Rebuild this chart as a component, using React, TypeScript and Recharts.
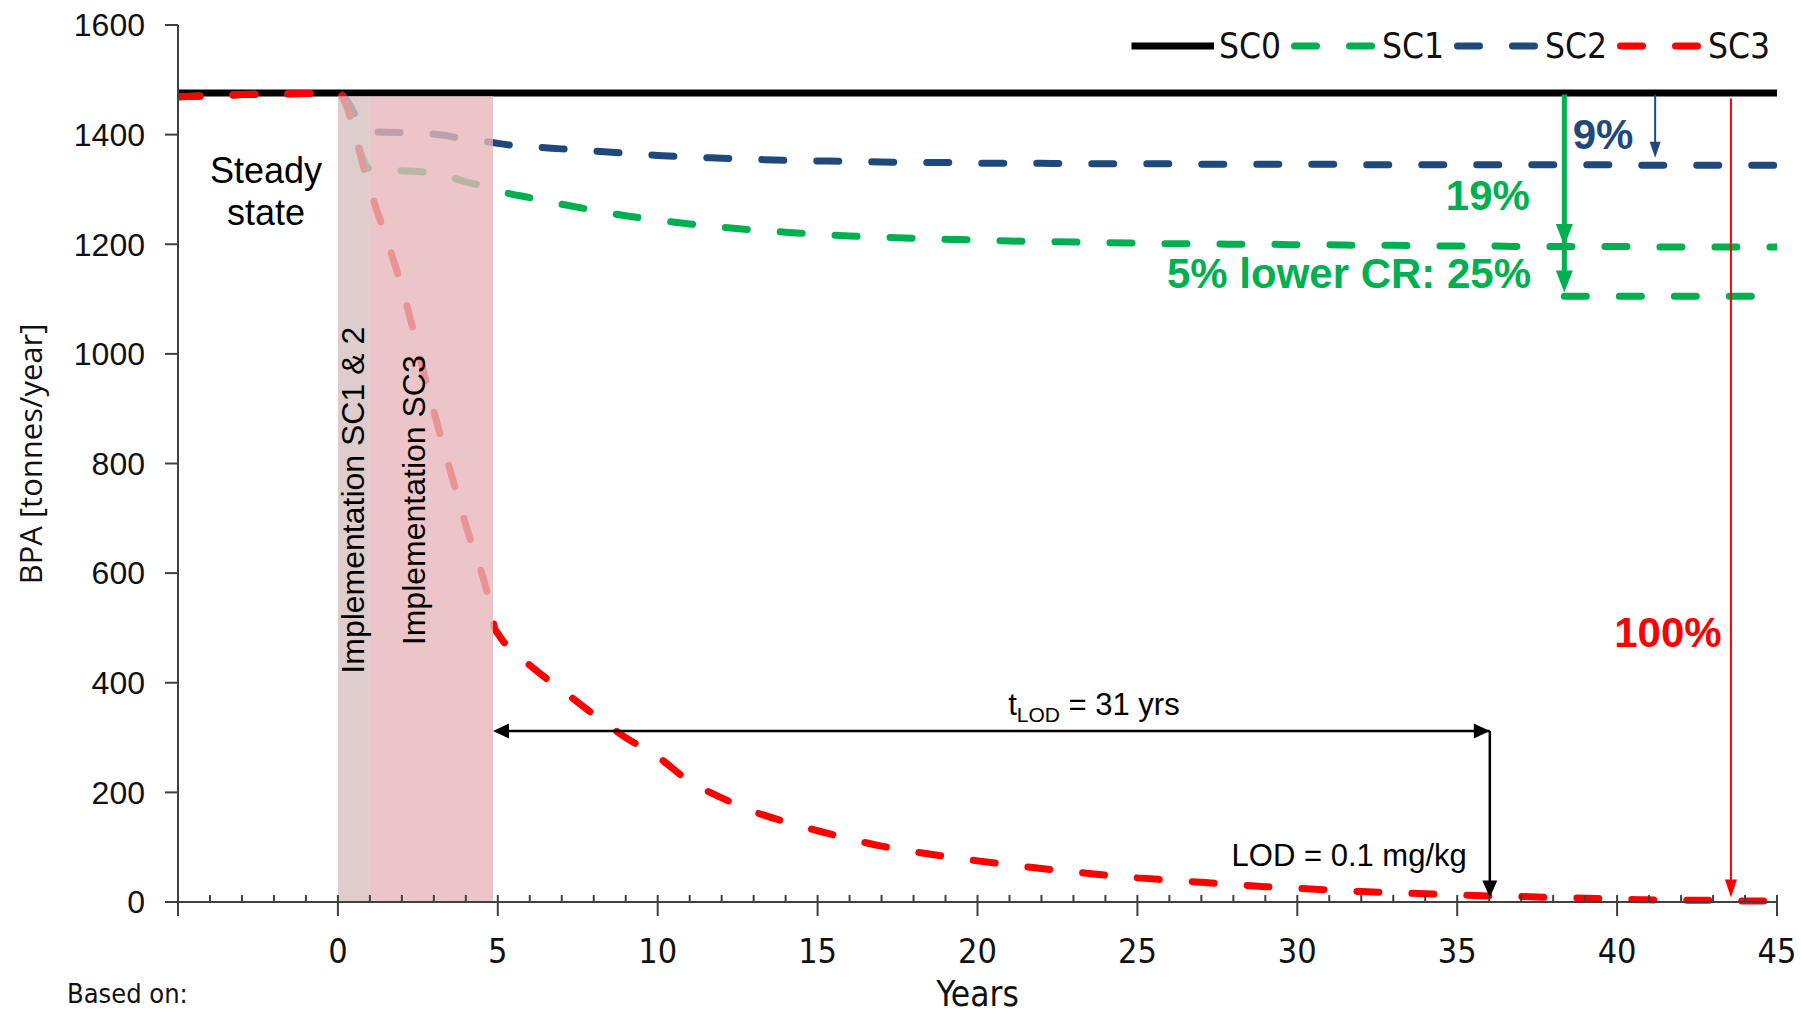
import React from 'react';
import { LineChart, Line, XAxis, YAxis, ReferenceArea, ReferenceLine, ReferenceDot, Legend } from 'recharts';

// years on the x axis (steady state before 0, implementation 0..~5)
const years = [
  -5, -4, -3, -2, -1, 0, 1, 2, 3, 4, 4.8, 4.9,
  5, 6, 7, 8, 9, 10, 11, 12, 13, 14, 15, 16, 17, 18, 19, 20,
  21, 22, 23, 24, 25, 26, 27, 28, 29, 30, 31, 32, 33, 34, 35,
  36, 37, 38, 39, 40, 41, 42, 43, 44, 45,
];

// BPA [tonnes/year] per scenario
const sc0 = [
  1476, 1476, 1476, 1476, 1476, 1476, 1476, 1476, 1476, 1476, 1476, 1476,
  1476, 1476, 1476, 1476, 1476, 1476, 1476, 1476, 1476, 1476, 1476, 1476, 1476, 1476, 1476, 1476,
  1476, 1476, 1476, 1476, 1476, 1476, 1476, 1476, 1476, 1476, 1476, 1476, 1476, 1476, 1476,
  1476, 1476, 1476, 1476, 1476, 1476, 1476, 1476, 1476, 1476,
];
const sc1 = [
  1469, 1471, 1473, 1474, 1475, 1476, 1338, 1334, 1330, 1314, 1302, 1300,
  1298, 1285, 1273, 1262, 1252, 1244, 1237, 1231, 1226, 1222, 1218, 1215, 1213, 1211, 1209, 1208,
  1206, 1205, 1204, 1203, 1202, 1201, 1201, 1200, 1200, 1199, 1199, 1198, 1198, 1197, 1197,
  1197, 1196, 1196, 1196, 1196, 1195, 1195, 1195, 1195, 1195,
];
const sc2 = [
  1469, 1471, 1473, 1474, 1475, 1476, 1405, 1404, 1401, 1392, 1386, 1385,
  1384, 1378, 1374, 1370, 1366, 1362, 1359, 1357, 1355, 1353, 1352, 1351, 1350, 1349, 1349, 1348,
  1348, 1348, 1347, 1347, 1347, 1347, 1346, 1346, 1346, 1346, 1346, 1345, 1345, 1345, 1345,
  1345, 1345, 1345, 1345, 1345, 1344, 1344, 1344, 1344, 1344,
];
const sc3 = [
  1469, 1471, 1473, 1474, 1475, 1476, 1300, 1121, 895, 688, 530, 500,
  490, 432, 387, 342, 300, 265, 220, 190, 165, 146, 130, 115, 102, 92, 83, 75,
  68, 61, 55, 49, 44, 40, 36, 32, 28, 25, 22, 19, 17, 15, 13,
  11, 10, 8, 7, 5, 4, 3, 3, 2, 2,
];

// SC1 with 5% lower collection rate (end level)
const lowerCrYears = [38.35, 45];
const lowerCr = [1105, 1105];

const xTicks = [
  -5, -4, -3, -2, -1, 0, 1, 2, 3, 4, 5, 6, 7, 8, 9, 10, 11, 12, 13, 14, 15, 16, 17, 18, 19, 20,
  21, 22, 23, 24, 25, 26, 27, 28, 29, 30, 31, 32, 33, 34, 35, 36, 37, 38, 39, 40, 41, 42, 43, 44, 45,
];
const yTicks = [0, 200, 400, 600, 800, 1000, 1200, 1400, 1600];

const series = [
  { key: 'sc0', name: 'SC0', color: '#000000', dash: undefined },
  { key: 'sc1', name: 'SC1', color: '#00B050', dash: '22 33' },
  { key: 'sc2', name: 'SC2', color: '#1F497D', dash: '22 33' },
  { key: 'sc3', name: 'SC3', color: '#FF0000', dash: '22 33' },
];

const data = years.map((year, i) => ({ year, sc0: sc0[i], sc1: sc1[i], sc2: sc2[i], sc3: sc3[i] }));
const lowerCrData = lowerCrYears.map((year, i) => ({ year, value: lowerCr[i] }));

const ARIAL = 'Liberation Sans, Arial, sans-serif';
const NARROW = "'Liberation Sans Narrow', 'Arial Narrow', 'DejaVu Sans Condensed', sans-serif";
const AXIS = '#404040';

function XTick(props: any) {
  const { x, y, payload } = props;
  const v = payload.value;
  const major = v % 5 === 0;
  return (
    <g>
      <line x1={x} x2={x} y1={y - 7} y2={major ? y + 14 : y} stroke={AXIS} strokeWidth={2} />
      {major && v >= 0 && (
        <text x={x} y={y + 61} textAnchor="middle" fontFamily={NARROW} fontSize={34} fill="#111">
          {v}
        </text>
      )}
    </g>
  );
}

function Arrowhead({ cx, cy, dir, len, wid, color }: any) {
  let pts = '';
  if (dir === 'down') pts = `${cx},${cy} ${cx - wid / 2},${cy - len} ${cx + wid / 2},${cy - len}`;
  if (dir === 'left') pts = `${cx},${cy} ${cx + len},${cy - wid / 2} ${cx + len},${cy + wid / 2}`;
  if (dir === 'right') pts = `${cx},${cy} ${cx - len},${cy - wid / 2} ${cx - len},${cy + wid / 2}`;
  return <polygon points={pts} fill={color} />;
}

const arrow = (dir: string, len: number, wid: number, color: string) => (p: any) =>
  <Arrowhead cx={p.cx} cy={p.cy} dir={dir} len={len} wid={wid} color={color} />;

const note = (text: React.ReactNode, style: any) => (p: any) =>
  <text x={p.cx} y={p.cy} {...style}>{text}</text>;

const vnote = (text: string) => (p: any) => (
  <text x={p.cx} y={p.cy} dy="0.36em" textAnchor="middle" fontFamily={ARIAL} fontSize={32} fill="#000"
    transform={`rotate(-90, ${p.cx}, ${p.cy})`}>{text}</text>
);

function LegendContent() {
  return (
    <svg width={650} height={40}>
      {series.map((s, i) => (
        <g key={s.key} transform={`translate(${i * 163}, 20)`}>
          <line x1={3.5} x2={86} y1={0} y2={0} stroke={s.color} strokeWidth={7}
            strokeDasharray={s.dash} strokeLinecap={s.dash ? 'round' : 'butt'} />
          <text x={91} y={0} dy="0.35em" fontFamily={NARROW} fontSize={35} fill="#111">{s.name}</text>
        </g>
      ))}
    </svg>
  );
}

export default function App() {
  return (
    <div style={{ position: 'absolute', left: 0, top: 0, width: 1801, height: 1013, background: '#fff' }}>
      <LineChart width={1801} height={1013} data={data} margin={{ top: 25, right: 24, left: 78, bottom: 51 }}>
        <XAxis
          dataKey="year"
          type="number"
          domain={[-5, 45]}
          ticks={xTicks}
          interval={0}
          allowDataOverflow
          height={60}
          tickLine={false}
          tickSize={0}
          tickMargin={0}
          tick={XTick}
          axisLine={{ stroke: AXIS, strokeWidth: 2 }}
          label={(p: any) => (
            <text x={p.viewBox.x + p.viewBox.width / 2} y={p.viewBox.y + 104} textAnchor="middle"
              fontFamily={NARROW} fontSize={35} fill="#111">Years</text>
          )}
        />
        <YAxis
          type="number"
          domain={[0, 1600]}
          ticks={yTicks}
          width={100}
          tickSize={13}
          tickMargin={20}
          tick={{ fontSize: 32, fontFamily: ARIAL, fill: '#111' }}
          tickLine={{ stroke: AXIS, strokeWidth: 2 }}
          axisLine={{ stroke: AXIS, strokeWidth: 2 }}
          label={(p: any) => (
            <text x={p.viewBox.x - 36} y={p.viewBox.y + 429} textAnchor="middle"
              fontFamily="'Open Sans', sans-serif" fontSize={31} fill="#111"
              transform={`rotate(-90, ${p.viewBox.x - 36}, ${p.viewBox.y + 429})`}>BPA [tonnes/year]</text>
          )}
        />
        <Legend verticalAlign="middle" align="center" layout="horizontal" content={LegendContent}
          wrapperStyle={{ position: 'absolute', left: 1128, top: 26, width: 660, height: 40 }} />

        {series.map((s) => (
          <Line key={s.key} dataKey={s.key} name={s.name} type="monotone" stroke={s.color} strokeWidth={7}
            strokeDasharray={s.dash} strokeLinecap={s.dash ? 'round' : 'butt'}
            dot={false} activeDot={false} isAnimationActive={false} />
        ))}
        <Line data={lowerCrData} dataKey="value" name="SC1 lower CR" type="linear" stroke="#00B050" strokeWidth={7}
          strokeDasharray="22 33" strokeLinecap="round" dot={false} activeDot={false} legendType="none"
          isAnimationActive={false} />

        {/* implementation periods, laid over the curves */}
        <ReferenceArea x1={0} x2={1} y1={0} y2={1470} fill="#D7C0C0" fillOpacity={0.8} stroke="none" zIndex={450} />
        <ReferenceArea x1={1} x2={4.85} y1={0} y2={1470} fill="#E6B6B9" fillOpacity={0.8} stroke="none" zIndex={450} />

        {/* reduction arrows */}
        <ReferenceLine segment={[{ x: 38.35, y: 1473 }, { x: 38.35, y: 1130 }]} stroke="#00B050" strokeWidth={5} zIndex={460} />
        <ReferenceDot x={38.35} y={1197} r={0} shape={arrow('down', 22, 17, '#00B050')} zIndex={460} />
        <ReferenceDot x={38.35} y={1112} r={0} shape={arrow('down', 22, 17, '#00B050')} zIndex={460} />
        <ReferenceLine segment={[{ x: 41.19, y: 1473 }, { x: 41.19, y: 1370 }]} stroke="#1F497D" strokeWidth={2} zIndex={460} />
        <ReferenceDot x={41.19} y={1358} r={0} shape={arrow('down', 16, 11, '#1F497D')} zIndex={460} />
        <ReferenceLine segment={[{ x: 43.56, y: 1466 }, { x: 43.56, y: 25 }]} stroke="#FF0000" strokeWidth={2} zIndex={460} />
        <ReferenceDot x={43.56} y={8} r={0} shape={arrow('down', 18, 12, '#FF0000')} zIndex={460} />

        {/* t_LOD arrows */}
        <ReferenceLine segment={[{ x: 5.3, y: 312 }, { x: 36.02, y: 312 }]} stroke="#000" strokeWidth={2.5} zIndex={460} />
        <ReferenceDot x={4.85} y={312} r={0} shape={arrow('left', 16, 15, '#000')} zIndex={460} />
        <ReferenceDot x={36.02} y={312} r={0} shape={arrow('right', 16, 15, '#000')} zIndex={460} />
        <ReferenceLine segment={[{ x: 36.02, y: 312 }, { x: 36.02, y: 30 }]} stroke="#000" strokeWidth={2.5} zIndex={460} />
        <ReferenceDot x={36.02} y={8} r={0} shape={arrow('down', 17, 15, '#000')} zIndex={460} />

        {/* text notes */}
        <ReferenceDot x={-2.25} y={1312} r={0} zIndex={470}
          shape={note('Steady', { textAnchor: 'middle', fontFamily: ARIAL, fontSize: 36, fill: '#000' })} />
        <ReferenceDot x={-2.25} y={1235} r={0} zIndex={470}
          shape={note('state', { textAnchor: 'middle', fontFamily: ARIAL, fontSize: 36, fill: '#000' })} />
        <ReferenceDot x={0.457} y={733} r={0} zIndex={470} shape={vnote('Implementation SC1 & 2')} />
        <ReferenceDot x={2.36} y={733} r={0} zIndex={470} shape={vnote('Implementation SC3')} />
        <ReferenceDot x={23.64} y={341} r={0} zIndex={470}
          shape={note(
            <>t<tspan fontSize={21} dy={7}>LOD</tspan><tspan dy={-7}> = 31 yrs</tspan></>,
            { textAnchor: 'middle', fontFamily: ARIAL, fontSize: 31, fill: '#000' },
          )} />
        <ReferenceDot x={35.3} y={66} r={0} zIndex={470}
          shape={note('LOD = 0.1 mg/kg', { textAnchor: 'end', fontFamily: ARIAL, fontSize: 31, fill: '#000' })} />
        <ReferenceDot x={39.56} y={1374} r={0} zIndex={470}
          shape={note('9%', { textAnchor: 'middle', fontFamily: ARIAL, fontSize: 42, fontWeight: 'bold', fill: '#1F497D' })} />
        <ReferenceDot x={35.96} y={1262} r={0} zIndex={470}
          shape={note('19%', { textAnchor: 'middle', fontFamily: ARIAL, fontSize: 42, fontWeight: 'bold', fill: '#00B050' })} />
        <ReferenceDot x={37.31} y={1120} r={0} zIndex={470}
          shape={note('5% lower CR: 25%', { textAnchor: 'end', fontFamily: ARIAL, fontSize: 42, fontWeight: 'bold', fill: '#00B050' })} />
        <ReferenceDot x={41.59} y={465} r={0} zIndex={470}
          shape={note('100%', { textAnchor: 'middle', fontFamily: ARIAL, fontSize: 42, fontWeight: 'bold', fill: '#FF0000' })} />
      </LineChart>
      <div style={{ position: 'absolute', left: 67, top: 978, fontFamily: NARROW, fontSize: 27, color: '#111', lineHeight: '32px' }}>
        Based on:
      </div>
    </div>
  );
}
